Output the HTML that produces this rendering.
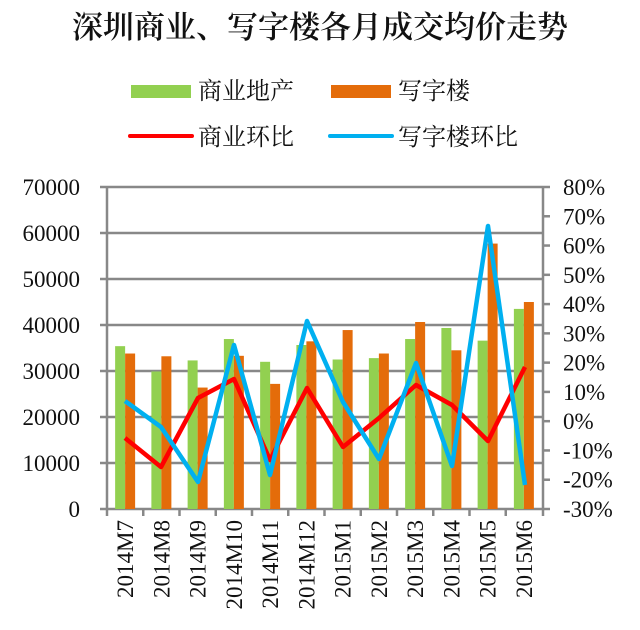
<!DOCTYPE html>
<html><head><meta charset="utf-8"><style>
html,body{margin:0;padding:0;background:#fff;}
svg{display:block;}
.sf{font-family:"Liberation Serif","Noto Serif CJK SC",serif;}
</style></head><body>
<svg width="640" height="630" viewBox="0 0 640 630" xmlns="http://www.w3.org/2000/svg">
<text class="sf" x="320" y="38" text-anchor="middle" font-size="31" font-weight="600" fill="#111">深圳商业、写字楼各月成交均价走势</text>
<g class="sf" font-size="24" fill="#111">
<rect x="131" y="85" width="60" height="13" fill="#92D050"/>
<text x="198" y="99">商业地产</text>
<rect x="331" y="85" width="60" height="13" fill="#E46C0A"/>
<text x="398" y="99">写字楼</text>
<line x1="130" y1="136" x2="192" y2="136" stroke="#FF0000" stroke-width="4" stroke-linecap="round"/>
<text x="198" y="145">商业环比</text>
<line x1="330" y1="136" x2="392" y2="136" stroke="#00B0F0" stroke-width="4" stroke-linecap="round"/>
<text x="398" y="145">写字楼环比</text>
</g>
<g stroke="#888" stroke-width="2.5">
<line x1="100" y1="187" x2="543" y2="187"/>
<line x1="100" y1="233" x2="543" y2="233"/>
<line x1="100" y1="279" x2="543" y2="279"/>
<line x1="100" y1="325" x2="543" y2="325"/>
<line x1="100" y1="371" x2="543" y2="371"/>
<line x1="100" y1="417" x2="543" y2="417"/>
<line x1="100" y1="463" x2="543" y2="463"/>
<line x1="100" y1="509" x2="543" y2="509"/>
</g>
<g id="bars"></g>
<g stroke="#888" stroke-width="2.5">
<line x1="107" y1="186" x2="107" y2="510"/>
<line x1="543" y1="186" x2="543" y2="510"/>
</g>
<g id="ticks" stroke="#888" stroke-width="2.5"></g>
<g class="sf" font-size="23" fill="#111" text-anchor="end">
<text x="80" y="195">70000</text><text x="80" y="241">60000</text><text x="80" y="287">50000</text><text x="80" y="333">40000</text><text x="80" y="379">30000</text><text x="80" y="425">20000</text><text x="80" y="471">10000</text><text x="80" y="517">0</text>
</g>
<g class="sf" font-size="23" fill="#111" id="rl"></g>
<g class="sf" font-size="23" fill="#111" id="xl"></g>
<polyline fill="none" stroke="#FF0000" stroke-width="4.5" stroke-linejoin="round" points="125,438 161,467 198,398 234,379 270,460 307,388 343,447 379,418 416,385 452,405 488,441 525,367"/>
<polyline fill="none" stroke="#00B0F0" stroke-width="4.5" stroke-linejoin="round" points="125,401 161,427 198,482 234,345 270,475 307,321 343,402 379,459 416,363 452,466 488,226 525,485"/>
<script>
var g=[35400,29900,32300,36950,32000,35650,32500,32800,36950,39350,36600,43500];
var o=[33800,33200,26400,33300,27200,36450,38900,33800,40650,34500,57700,45000];
var lab=["2014M7","2014M8","2014M9","2014M10","2014M11","2014M12","2015M1","2015M2","2015M3","2015M4","2015M5","2015M6"];
var ns="http://www.w3.org/2000/svg";
function el(p,t,a,txt){var e=document.createElementNS(ns,t);for(var k in a)e.setAttribute(k,a[k]);if(txt)e.textContent=txt;p.appendChild(e);}
var b=document.getElementById("bars"),tk=document.getElementById("ticks"),xl=document.getElementById("xl"),rl=document.getElementById("rl");
for(var i=0;i<12;i++){var c=107+36.25*(i+0.5);
var hg=g[i]*0.0046,ho=o[i]*0.0046;
el(b,"rect",{x:c-10,y:509-hg,width:10,height:hg,fill:"#92D050"});
el(b,"rect",{x:c,y:509-ho,width:10,height:ho,fill:"#E46C0A"});
var tx=107+36.25*i;el(tk,"line",{x1:tx,y1:509,x2:tx,y2:516});
el(xl,"text",{transform:"translate("+(c+8)+",520) rotate(-90)","text-anchor":"end"},lab[i]);}
el(tk,"line",{x1:543,y1:509,x2:543,y2:516});
for(var j=0;j<12;j++){var y=187+j*322/11;el(tk,"line",{x1:543,y1:y,x2:550,y2:y});
var v=80-j*10;el(rl,"text",{x:563,y:y+8},v+"%");}
</script>
</svg>
</body></html>
